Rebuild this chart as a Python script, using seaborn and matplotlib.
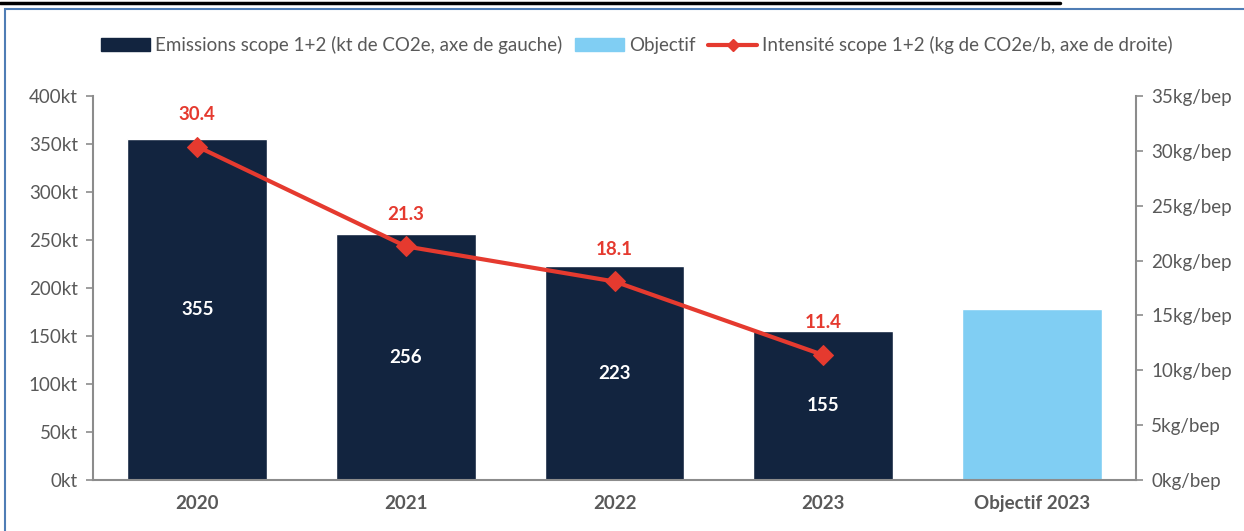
import pandas as pd
import numpy as np
import matplotlib.pyplot as plt
import seaborn as sns
from matplotlib.patches import Patch, Rectangle
from matplotlib.lines import Line2D

sns.set_style("white")
plt.rcParams['font.family'] = ['Lato', 'DejaVu Sans']

# data
categories = ['2020', '2021', '2022', '2023', 'Objectif 2023']
emissions = [355, 256, 223, 155]
objectif = 178
intensite = [30.4, 21.3, 18.1, 11.4]

lab_em = 'Emissions scope 1+2 (kt de CO2e, axe de gauche)'
lab_obj = 'Objectif'
lab_int = 'Intensité scope 1+2 (kg de CO2e/b, axe de droite)'

navy = '#12243F'
light = '#80CEF3'
red = '#E53A2F'
grey_txt = '#595959'
grey_ax = '#8C8C8C'

df = pd.DataFrame({
    'cat': categories,
    'val': emissions + [objectif],
    'kind': [lab_em] * len(emissions) + [lab_obj],
})

fig = plt.figure(figsize=(12.44, 5.31), dpi=100)
ax = fig.add_axes([0.0748, 0.096, 0.8384, 0.723])

sns.barplot(data=df, x='cat', y='val', hue='kind', dodge=False, width=0.67,
            palette={lab_em: navy, lab_obj: light}, order=categories,
            legend=False, ax=ax, saturation=1)

ax.set_ylim(0, 400)
ax.set_xlim(-0.5, len(categories) - 0.5)
ax.set_yticks(np.arange(0, 401, 50))
ax.set_yticklabels([f'{v}kt' for v in range(0, 401, 50)])
ax.set_xlabel('')
ax.set_ylabel('')
ax.tick_params(axis='y', colors=grey_ax, labelcolor=grey_txt, labelsize=13.5,
               direction='out', length=5, width=1.2, left=True, pad=6)
ax.tick_params(axis='x', length=0, labelcolor=grey_txt, labelsize=13.5, pad=11)
for t in ax.get_xticklabels():
    t.set_fontweight('bold')
for s in ['top', 'right']:
    ax.spines[s].set_visible(False)
for s in ['left', 'bottom']:
    ax.spines[s].set_color(grey_ax)
    ax.spines[s].set_linewidth(1.5)

# white value labels in the bars
for i, v in enumerate(emissions):
    ax.text(i, v / 2, f'{v}', ha='center', va='center', color='white',
            fontsize=13.5, fontweight='bold')

ax2 = ax.twinx()
sns.lineplot(x=list(range(len(intensite))), y=intensite, ax=ax2, color=red,
             linewidth=3, marker='D', markersize=10, markeredgecolor=red)
ax2.set_ylim(0, 35)
ax2.set_yticks(np.arange(0, 36, 5))
ax2.set_yticklabels([f'{v}kg/bep' for v in range(0, 36, 5)])
ax2.tick_params(axis='y', colors=grey_ax, labelcolor=grey_txt, labelsize=13.5,
                direction='out', length=5, width=1.2, right=True, pad=6)
for s in ['top', 'left', 'bottom']:
    ax2.spines[s].set_visible(False)
ax2.spines['right'].set_color(grey_ax)
ax2.spines['right'].set_linewidth(1.5)
ax2.set_xlim(-0.5, len(categories) - 0.5)

for i, v in enumerate(intensite):
    ax2.annotate(f'{v}', (i, v), xytext=(0, 17), textcoords='offset points',
                 ha='center', va='bottom', color=red, fontsize=13.5, fontweight='bold')

handles = [Patch(color=navy), Patch(color=light),
           Line2D([], [], color=red, lw=3, marker='D', markersize=6)]
fig.legend(handles, [lab_em, lab_obj, lab_int], loc='center', ncol=3,
           bbox_to_anchor=(0.512, 0.915), frameon=False, fontsize=13.5,
           labelcolor=grey_txt, handlelength=2.6, handleheight=0.7,
           handletextpad=0.25, columnspacing=0.7)

# frame and cut title underline from the source document
fig.add_artist(Rectangle((0.004, -0.05), 1.2, 1.033, transform=fig.transFigure,
                         fill=False, edgecolor='#4F7DB5', linewidth=1.5))
fig.add_artist(Line2D([0, 0.852], [0.995, 0.995], transform=fig.transFigure,
                      color='black', linewidth=2.5))

fig.savefig('out.png', dpi=100)
